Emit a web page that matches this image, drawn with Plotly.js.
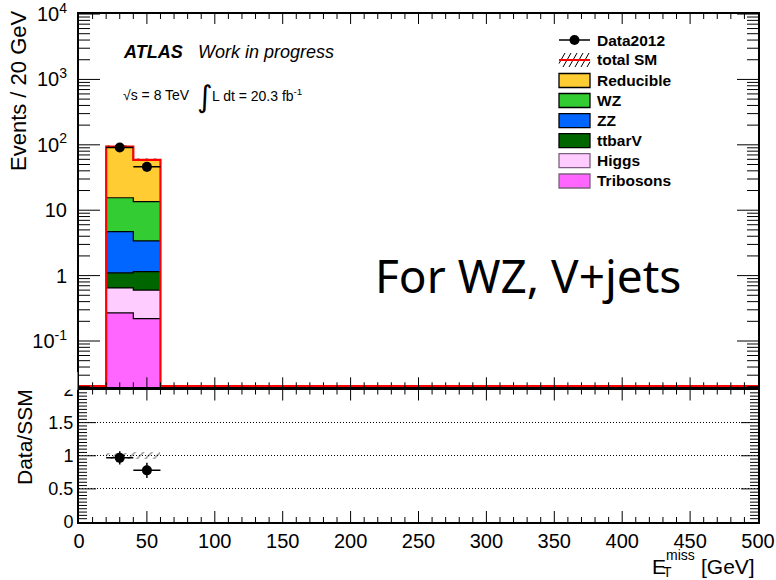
<!DOCTYPE html>
<html><head><meta charset="utf-8">
<script src="https://cdn.plot.ly/plotly-3.0.1.min.js"></script>
<style>html,body{margin:0;padding:0;background:#fff}#chart{width:776px;height:580px}</style>
</head><body><div id="chart"></div>
<script>
// ---- data (20 GeV bins from 0 to 500 GeV) ----
const binEdges = [0,20,40,60,80,100,120,140,160,180,200,220,240,260,280,300,320,340,360,380,400,420,440,460,480,500];
const seriesNames  = ["Reducible","WZ","ZZ","ttbarV","Higgs","Tribosons"];
const seriesColors = ["#FFCC33","#33CC33","#0066FF","#006600","#FFCCFF","#FF66FF"];
const legendBorders = ["#000000","#000000","#000000","#000000","#7F5F7F","#7F5F7F"];
const reducible = [0,78.5,45.5,0,0,0,0,0,0,0,0,0,0,0,0,0,0,0,0,0,0,0,0,0,0];
const wz        = [0,10.8,10.1,0,0,0,0,0,0,0,0,0,0,0,0,0,0,0,0,0,0,0,0,0,0];
const zz        = [0,3.6,2.25,0,0,0,0,0,0,0,0,0,0,0,0,0,0,0,0,0,0,0,0,0,0];
const ttbarV    = [0,0.45,0.55,0,0,0,0,0,0,0,0,0,0,0,0,0,0,0,0,0,0,0,0,0,0];
const higgs     = [0,0.38,0.38,0,0,0,0,0,0,0,0,0,0,0,0,0,0,0,0,0,0,0,0,0,0];
const tribosons = [0,0.27,0.22,0,0,0,0,0,0,0,0,0,0,0,0,0,0,0,0,0,0,0,0,0,0];
const data2012    = [0,91,46,0,0,0,0,0,0,0,0,0,0,0,0,0,0,0,0,0,0,0,0,0,0];
const data2012Err = [0,9.5,6.8,0,0,0,0,0,0,0,0,0,0,0,0,0,0,0,0,0,0,0,0,0,0];
const smRelErr    = [0,0.045,0.05,0,0,0,0,0,0,0,0,0,0,0,0,0,0,0,0,0,0,0,0,0,0];
const yTickVals = [0.1,1,10,100,1000,10000];
const yTickText = ["10<sup>-1</sup>","1","10","10<sup>2</sup>","10<sup>3</sup>","10<sup>4</sup>"];
const ratioTickVals = [0,0.5,1,1.5,2];
const ratioTickText = ["0","0.5","1","1.5","2"];
const xTickVals = [0,50,100,150,200,250,300,350,400,450,500];
const xTickText = ["0","50","100","150","200","250","300","350","400","450","500"];
const legendLabels = ["Data2012","total SM"].concat(seriesNames);

// ---- derived ----
const FONT = "Liberation Sans, Arial, Helvetica, sans-serif";
const stackOrder = [tribosons, higgs, ttbarV, zz, wz, reducible]; // bottom -> top
const stackNames = ["Tribosons","Higgs","ttbarV","ZZ","WZ","Reducible"];
const nb = binEdges.length - 1;
const centers = [], widths = [];
for (let i = 0; i < nb; i++) { centers.push((binEdges[i]+binEdges[i+1])/2); widths.push(binEdges[i+1]-binEdges[i]); }
const total = centers.map((_, i) => stackOrder.reduce((s, a) => s + a[i], 0));
const nz = centers.map((_, i) => i).filter(i => total[i] > 0);
const yLogMin = -1.708, yLogMax = 4.0005;
const floorVal = Math.pow(10, yLogMin) * 1.045;
const xMin = 0, xMax = 500, rMin = 0, rMax = 2;

// px -> paper helpers for decorations
const L = 79, R = 758, T = 14, B = 522;
const X = px => (px - L) / (R - L);
const Y = py => (B - py) / (B - T);
const dRatio = [0, Y(389.5)], dMain = [Y(387.3), 1];

const traces = [];
let cum = centers.map(() => 0);
stackOrder.forEach((arr, k) => {
  const name = stackNames[k];
  const col = seriesColors[seriesNames.indexOf(name)];
  const base = nz.map(i => cum[i]);
  traces.push({
    type: 'bar', x: nz.map(i => centers[i]), y: nz.map(i => arr[i]),
    base: k === 0 ? undefined : base, width: nz.map(i => widths[i]),
    marker: {color: col, line: {width: 0}}, xaxis: 'x2', yaxis: 'y2',
    showlegend: false, hoverinfo: 'skip'
  });
  cum = cum.map((c, i) => c + arr[i]);
  const sx = nz.map(i => binEdges[i]).concat([binEdges[nz[nz.length-1]+1]]);
  const sy = nz.map(i => cum[i]).concat([cum[nz[nz.length-1]]]);
  traces.push({type: 'scatter', mode: 'lines', x: sx, y: sy, line: {shape: 'hv', color: '#000', width: 1.2},
    xaxis: 'x2', yaxis: 'y2', showlegend: false, hoverinfo: 'skip'});
});
const hatch = {shape: '/', fgcolor: '#000', bgcolor: 'rgba(0,0,0,0)', fillmode: 'overlay', size: 6, solidity: 0.2};
traces.push({
  type: 'bar', x: nz.map(i => centers[i]), y: nz.map(i => 2*total[i]*smRelErr[i]),
  base: nz.map(i => total[i]*(1-smRelErr[i])), width: nz.map(i => widths[i]),
  marker: {color: 'rgba(0,0,0,0)', line: {width: 0}, pattern: hatch},
  xaxis: 'x2', yaxis: 'y2', showlegend: false, hoverinfo: 'skip'
});
traces.push({
  type: 'scatter', mode: 'lines', x: binEdges,
  y: total.map(v => Math.max(v, floorVal)).concat([Math.max(total[nb-1], floorVal)]),
  line: {shape: 'hv', color: '#FF0000', width: 2.2}, xaxis: 'x2', yaxis: 'y2', showlegend: false, hoverinfo: 'skip'
});
traces.push({
  type: 'scatter', mode: 'markers', x: nz.map(i => centers[i]), y: nz.map(i => data2012[i]),
  marker: {color: '#000', size: 10, symbol: 'circle'},
  error_x: {type: 'data', array: nz.map(i => widths[i]/2), color: '#000', thickness: 1.5, width: 0},
  error_y: {type: 'data', array: nz.map(i => data2012Err[i]), color: '#000', thickness: 1.5, width: 0},
  xaxis: 'x2', yaxis: 'y2', showlegend: false, hoverinfo: 'skip'
});
traces.push({
  type: 'bar', x: nz.map(i => centers[i]), y: nz.map(i => 2*smRelErr[i]),
  base: nz.map(i => 1 - smRelErr[i]), width: nz.map(i => widths[i]),
  marker: {color: 'rgba(0,0,0,0)', line: {width: 0}, pattern: hatch},
  xaxis: 'x', yaxis: 'y', showlegend: false, hoverinfo: 'skip'
});
traces.push({
  type: 'scatter', mode: 'markers', x: nz.map(i => centers[i]), y: nz.map(i => data2012[i]/total[i]),
  marker: {color: '#000', size: 10, symbol: 'circle'},
  error_x: {type: 'data', array: nz.map(i => widths[i]/2), color: '#000', thickness: 1.5, width: 0},
  error_y: {type: 'data', array: nz.map(i => data2012Err[i]/total[i]), color: '#000', thickness: 1.5, width: 0},
  xaxis: 'x', yaxis: 'y', showlegend: false, hoverinfo: 'skip'
});

const axBase = {showline: true, linecolor: '#000', linewidth: 2, mirror: true, ticks: '',
  showgrid: false, zeroline: false, fixedrange: true, tickmode: 'array'};

const shapes = [], annotations = [];

// ---- ROOT-style inward ticks on all four sides (axis decoration) ----
const xP = v => (v - xMin) / (xMax - xMin);
const rP = v => dRatio[0] + (v - rMin) / (rMax - rMin) * (dRatio[1] - dRatio[0]);
const lP = v => dMain[0] + (Math.log10(v) - yLogMin) / (yLogMax - yLogMin) * (dMain[1] - dMain[0]);
const tk = {color: '#000', width: 1};
function yTicks(vals, toP, len) {
  vals.forEach(v => {
    const p = toP(v);
    shapes.push({type: 'line', xref: 'paper', yref: 'paper', xsizemode: 'pixel', xanchor: 0, x0: 0, x1: len, y0: p, y1: p, line: tk});
    shapes.push({type: 'line', xref: 'paper', yref: 'paper', xsizemode: 'pixel', xanchor: 1, x0: 0, x1: -len, y0: p, y1: p, line: tk});
  });
}
function xTicks(vals, yBot, yTop, len) {
  vals.forEach(v => {
    const p = xP(v);
    shapes.push({type: 'line', xref: 'paper', yref: 'paper', ysizemode: 'pixel', yanchor: yBot, y0: 0, y1: len, x0: p, x1: p, line: tk});
    shapes.push({type: 'line', xref: 'paper', yref: 'paper', ysizemode: 'pixel', yanchor: yTop, y0: 0, y1: -len, x0: p, x1: p, line: tk});
  });
}
const xMinor = [], ratioMinor = [], logMinor = [];
for (let v = xMin; v <= xMax; v += 10) if (v % 50 !== 0) xMinor.push(v);
for (let k = 1; k < 40; k++) if (k % 10 !== 0) ratioMinor.push(k * 0.05);
for (let d = -2; d < 4; d++) for (let m = 2; m <= 9; m++) { const v = m * Math.pow(10, d); if (Math.log10(v) > yLogMin) logMinor.push(v); }
yTicks(yTickVals, lP, 21);
yTicks(logMinor, lP, 11);
yTicks(ratioTickVals.filter(v => v > rMin && v < rMax), rP, 17);
yTicks(ratioMinor, rP, 8);
xTicks(xTickVals.filter(v => v > xMin && v < xMax), dRatio[0], dRatio[1], 11);
xTicks(xMinor, dRatio[0], dRatio[1], 5);
xTicks(xTickVals.filter(v => v > xMin && v < xMax), dMain[0], dMain[1], 10);
xTicks(xMinor, dMain[0], dMain[1], 5);

// ---- legend ----
const rowY = [40, 60, 80.5, 100.5, 120.7, 140.7, 160.7, 181];
const bx0 = 559, bx1 = 590;
shapes.push({type: 'line', xref: 'paper', yref: 'paper', x0: X(bx0), x1: X(bx1), y0: Y(rowY[0]), y1: Y(rowY[0]), line: {color: '#000', width: 1.5}});
shapes.push({type: 'circle', xref: 'paper', yref: 'paper', x0: X(569.5), x1: X(579.5), y0: Y(rowY[0]-5), y1: Y(rowY[0]+5), fillcolor: '#000', line: {color: '#000', width: 0}});
for (let hx = bx0 - 2; hx < bx1; hx += 6) {
  const xe = Math.min(hx + 8, bx1);
  shapes.push({type: 'line', xref: 'paper', yref: 'paper', x0: X(Math.max(hx, bx0)), y0: Y(rowY[1]+7 - (Math.max(hx,bx0)-hx)*14/8),
    x1: X(xe), y1: Y(rowY[1]+7-(xe-hx)*14/8), line: {color: '#000', width: 1}});
}
shapes.push({type: 'line', xref: 'paper', yref: 'paper', x0: X(bx0), x1: X(bx1), y0: Y(rowY[1]), y1: Y(rowY[1]), line: {color: '#FF0000', width: 2}});
seriesNames.forEach((n, k) => {
  const cy = rowY[k+2];
  shapes.push({type: 'rect', xref: 'paper', yref: 'paper', x0: X(bx0), x1: X(bx1), y0: Y(cy+7), y1: Y(cy-7),
    fillcolor: seriesColors[k], line: {color: legendBorders[k], width: 1.3}});
});
legendLabels.forEach((t, k) => {
  annotations.push({xref: 'paper', yref: 'paper', x: X(595), y: Y(rowY[k]), xanchor: 'left', yanchor: 'middle',
    text: '<b>' + t + '</b>', showarrow: false, font: {family: FONT, size: 15.5, color: '#000'}});
});
shapes.push({type: 'rect', xref: 'paper', yref: 'paper', x0: X(30), x1: X(77.5), y0: Y(389.8), y1: Y(372), fillcolor: '#fff', line: {width: 0}, layer: 'above'});

// ---- texts ----
annotations.push({xref: 'paper', yref: 'paper', x: X(121), y: Y(52), xanchor: 'left', yanchor: 'middle', showarrow: false,
  text: '<b><i>ATLAS</i></b>', font: {family: FONT, size: 18, color: '#000'}});
annotations.push({xref: 'paper', yref: 'paper', x: X(196), y: Y(52), xanchor: 'left', yanchor: 'middle', showarrow: false,
  text: '<i>Work in progress</i>', font: {family: FONT, size: 18, color: '#000'}});
annotations.push({xref: 'paper', yref: 'paper', x: X(121), y: Y(95), xanchor: 'left', yanchor: 'middle', showarrow: false,
  text: '√s = 8 TeV', font: {family: FONT, size: 14, color: '#000'}});
annotations.push({xref: 'paper', yref: 'paper', x: X(195), y: Y(96), xanchor: 'left', yanchor: 'middle', showarrow: false,
  text: '∫', font: {family: 'DejaVu Sans, sans-serif', size: 30, color: '#000'}});
annotations.push({xref: 'paper', yref: 'paper', x: X(210), y: Y(95), xanchor: 'left', yanchor: 'middle', showarrow: false,
  text: 'L dt = 20.3 fb<sup>-1</sup>', font: {family: FONT, size: 14, color: '#000'}});
annotations.push({xref: 'paper', yref: 'paper', x: X(373), y: Y(275), xanchor: 'left', yanchor: 'middle', showarrow: false,
  text: 'For WZ, V+jets', font: {family: 'Noto Sans, Open Sans, sans-serif', size: 46, color: '#000'}});
annotations.push({xref: 'paper', yref: 'paper', x: X(19), y: Y(90), xanchor: 'center', yanchor: 'middle', showarrow: false,
  textangle: -90, text: 'Events / 20 GeV', font: {family: FONT, size: 22, color: '#000'}});
annotations.push({xref: 'paper', yref: 'paper', x: X(24), y: Y(437), xanchor: 'center', yanchor: 'middle', showarrow: false,
  textangle: -90, text: 'Data/SSM', font: {family: FONT, size: 21, color: '#000'}});
annotations.push({xref: 'paper', yref: 'paper', x: X(757), y: Y(566), xanchor: 'right', yanchor: 'middle', showarrow: false,
  text: '[GeV]', font: {family: FONT, size: 21, color: '#000'}});
annotations.push({xref: 'paper', yref: 'paper', x: X(650), y: Y(566), xanchor: 'left', yanchor: 'middle', showarrow: false,
  text: 'E', font: {family: FONT, size: 21, color: '#000'}});
annotations.push({xref: 'paper', yref: 'paper', x: X(665), y: Y(555), xanchor: 'left', yanchor: 'middle', showarrow: false,
  text: 'miss', font: {family: FONT, size: 14, color: '#000'}, borderpad: 0});
annotations.push({xref: 'paper', yref: 'paper', x: X(662), y: Y(572), xanchor: 'left', yanchor: 'middle', showarrow: false,
  text: 'T', font: {family: FONT, size: 14, color: '#000'}, borderpad: 0});

const layout = {
  width: 776, height: 580, margin: {l: L, r: 776 - R, t: T, b: 580 - B},
  paper_bgcolor: '#fff', plot_bgcolor: 'rgba(0,0,0,0)', barmode: 'overlay', bargap: 0,
  font: {family: FONT, color: '#000'}, showlegend: false,
  xaxis: Object.assign({}, axBase, {range: [xMin, xMax], tickvals: xTickVals, ticktext: xTickText,
    anchor: 'y', domain: [0, 1], tickfont: {family: FONT, size: 20}, ticklabeloverflow: 'allow'}),
  yaxis: Object.assign({}, axBase, {range: [rMin, rMax], tickvals: ratioTickVals, ticktext: ratioTickText,
    showgrid: true, gridcolor: '#000', griddash: '1px,2px', gridwidth: 1,
    anchor: 'x', domain: dRatio, tickfont: {family: FONT, size: 18}, ticklabeloverflow: 'allow'}),
  xaxis2: Object.assign({}, axBase, {range: [xMin, xMax], tickvals: xTickVals, showticklabels: false,
    anchor: 'y2', domain: [0, 1]}),
  yaxis2: Object.assign({}, axBase, {type: 'log', range: [yLogMin, yLogMax], tickvals: yTickVals, ticktext: yTickText,
    ticklabelstandoff: 6, anchor: 'x2', domain: dMain, tickfont: {family: FONT, size: 20}, ticklabeloverflow: 'allow'}),
  shapes: shapes, annotations: annotations
};

Plotly.newPlot('chart', traces, layout, {staticPlot: true, displayModeBar: false});
</script>
</body></html>
